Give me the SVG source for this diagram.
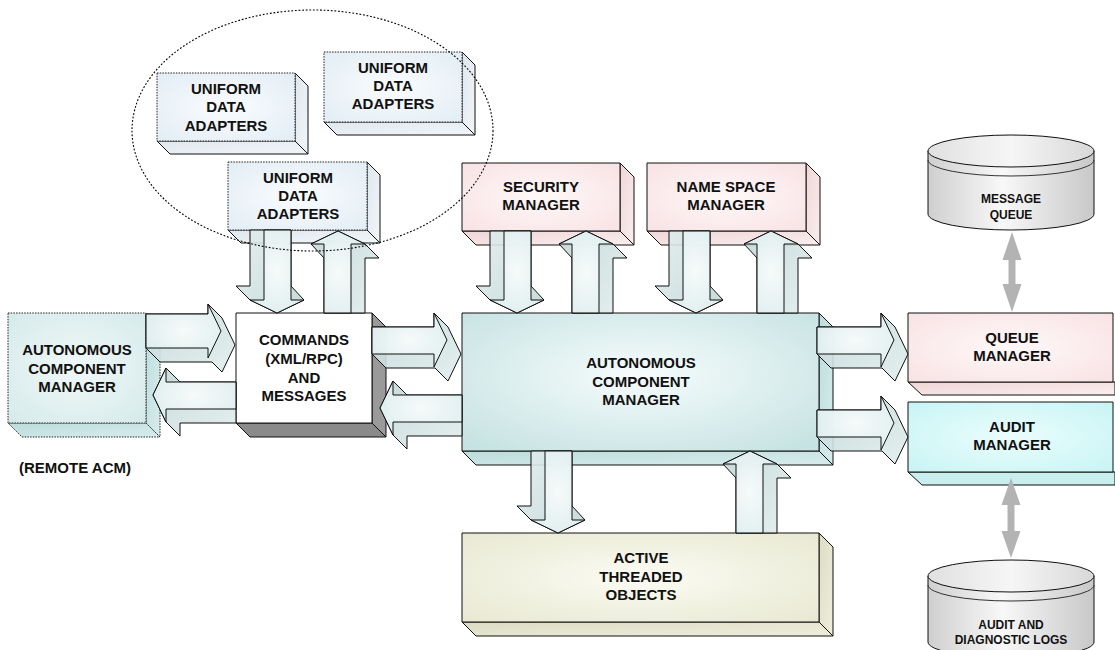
<svg xmlns="http://www.w3.org/2000/svg" width="1115" height="650" viewBox="0 0 1115 650">
<defs>
<style>
.t{font-family:"Liberation Sans",Arial,sans-serif;font-weight:bold;font-size:15px;text-anchor:middle;fill:#111}
.ts{font-size:12px}
.e{stroke:#111;stroke-width:1;stroke-linejoin:round}
.d{stroke:#222;stroke-width:1;stroke-dasharray:1.5 1.2}
.as{fill:url(#gAS);stroke:#111;stroke-width:1;stroke-linejoin:round;fill-opacity:0.9}
.af{fill:url(#gAF);stroke:#111;stroke-width:1;stroke-linejoin:round;fill-opacity:0.88}
.dbl{fill:#b3b3b3}
</style>
<radialGradient id="gUDA" cx="0.5" cy="0.5" r="0.7"><stop offset="0" stop-color="#fafcfe"/><stop offset="1" stop-color="#e2edf5"/></radialGradient>
<linearGradient id="gUDAs" x1="0" y1="0" x2="1" y2="1"><stop offset="0" stop-color="#dfe7ee"/><stop offset="1" stop-color="#f2f6f9"/></linearGradient>
<radialGradient id="gPink" cx="0.5" cy="0.5" r="0.7"><stop offset="0" stop-color="#fff8f8"/><stop offset="1" stop-color="#f8e2e4"/></radialGradient>
<linearGradient id="gPinkS" x1="0" y1="0" x2="1" y2="1"><stop offset="0" stop-color="#efd6d8"/><stop offset="1" stop-color="#fbeeee"/></linearGradient>
<radialGradient id="gAcm" cx="0.5" cy="0.45" r="0.7"><stop offset="0" stop-color="#f6fcfc"/><stop offset="1" stop-color="#c6e2e2"/></radialGradient>
<linearGradient id="gAcmS" x1="0" y1="0" x2="1" y2="1"><stop offset="0" stop-color="#bcdcdc"/><stop offset="1" stop-color="#d8ecec"/></linearGradient>
<radialGradient id="gRem" cx="0.5" cy="0.5" r="0.7"><stop offset="0" stop-color="#f0f8f8"/><stop offset="1" stop-color="#d6eaea"/></radialGradient>
<radialGradient id="gAud" cx="0.5" cy="0.5" r="0.7"><stop offset="0" stop-color="#eafdfd"/><stop offset="1" stop-color="#c8f4f4"/></radialGradient>
<radialGradient id="gAto" cx="0.5" cy="0.5" r="0.7"><stop offset="0" stop-color="#fbfbf3"/><stop offset="1" stop-color="#e8e8d2"/></radialGradient>
<linearGradient id="gAtoS" x1="0" y1="0" x2="1" y2="1"><stop offset="0" stop-color="#dcdcc4"/><stop offset="1" stop-color="#eeeedc"/></linearGradient>
<linearGradient id="gCyl" x1="0" y1="0" x2="1" y2="0"><stop offset="0" stop-color="#cfcfcf"/><stop offset="0.45" stop-color="#f8f8f8"/><stop offset="1" stop-color="#c8c8c8"/></linearGradient>
<linearGradient id="gCylT" x1="0" y1="0" x2="1" y2="0"><stop offset="0" stop-color="#e0e0e0"/><stop offset="0.5" stop-color="#f6f6f6"/><stop offset="1" stop-color="#d8d8d8"/></linearGradient>
<radialGradient id="gAF" cx="0.5" cy="0.5" r="0.7"><stop offset="0" stop-color="#fafdfd"/><stop offset="1" stop-color="#dcedee"/></radialGradient>
<linearGradient id="gAS" x1="0" y1="0" x2="1" y2="1"><stop offset="0" stop-color="#c2d6d6"/><stop offset="1" stop-color="#e2eeee"/></linearGradient>
</defs>
<rect width="1115" height="650" fill="#fff"/>

<g id="uda1">
<polygon class="e" fill="url(#gUDAs)" points="295,73 308,86 308,154 295,141"/>
<polygon class="e" fill="url(#gUDAs)" points="157,141 295,141 308,154 170,154"/>
<rect class="d" fill="url(#gUDA)" x="157" y="73" width="138" height="68"/>
<text class="t" x="226" y="94">UNIFORM</text><text class="t" x="226" y="112">DATA</text><text class="t" x="226" y="131">ADAPTERS</text>
</g>
<g id="uda2">
<polygon class="e" fill="url(#gUDAs)" points="462,52 475,65 475,135 462,122"/>
<polygon class="e" fill="url(#gUDAs)" points="324,122 462,122 475,135 337,135"/>
<rect class="d" fill="url(#gUDA)" x="324" y="52" width="138" height="70"/>
<text class="t" x="393" y="73">UNIFORM</text><text class="t" x="393" y="91">DATA</text><text class="t" x="393" y="109">ADAPTERS</text>
</g>
<g id="uda3">
<polygon class="e" fill="url(#gUDAs)" points="367,162 380,175 380,243 367,230"/>
<polygon class="e" fill="url(#gUDAs)" points="228,230 367,230 380,243 241,243"/>
<rect class="d" fill="url(#gUDA)" x="228" y="162" width="139" height="68"/>
<text class="t" x="298" y="183">UNIFORM</text><text class="t" x="298" y="201">DATA</text><text class="t" x="298" y="219">ADAPTERS</text>
</g>
<g id="security">
<polygon class="e" fill="url(#gPinkS)" points="620,163 634,177 634,245 620,231"/>
<polygon class="e" fill="url(#gPinkS)" points="462,231 620,231 634,245 476,245"/>
<rect class="e" fill="url(#gPink)" x="462" y="163" width="158" height="68"/>
<text class="t" x="541" y="192">SECURITY</text><text class="t" x="541" y="210">MANAGER</text>
</g>
<g id="namespace">
<polygon class="e" fill="url(#gPinkS)" points="806,163 820,177 820,245 806,231"/>
<polygon class="e" fill="url(#gPinkS)" points="647,231 806,231 820,245 661,245"/>
<rect class="e" fill="url(#gPink)" x="647" y="163" width="159" height="68"/>
<text class="t" x="726" y="192">NAME SPACE</text><text class="t" x="726" y="210">MANAGER</text>
</g>
<g id="acm">
<polygon class="e" fill="url(#gAcmS)" points="819,313 833,327 833,465 819,451"/>
<polygon class="e" fill="url(#gAcmS)" points="462,451 819,451 833,465 476,465"/>
<rect class="e" fill="url(#gAcm)" x="462" y="313" width="357" height="138"/>
<text class="t" x="641" y="368">AUTONOMOUS</text><text class="t" x="641" y="387">COMPONENT</text><text class="t" x="641" y="405">MANAGER</text>
</g>
<g id="commands">
<polygon class="e" fill="#9a9a9a" points="372,313 386,327 386,437 372,423"/>
<polygon class="e" fill="#8a8a8a" points="236,423 372,423 386,437 250,437"/>
<rect class="e" fill="#fff" x="236" y="313" width="136" height="110"/>
<text class="t" x="304" y="345">COMMANDS</text><text class="t" x="304" y="364">(XML/RPC)</text><text class="t" x="304" y="383">AND</text><text class="t" x="304" y="401">MESSAGES</text>
</g>
<g id="remote">
<polygon class="d" fill="url(#gAcmS)" points="146,313 160,327 160,437 146,423"/>
<polygon class="d" fill="url(#gAcmS)" points="8,423 146,423 160,437 22,437"/>
<rect class="d" fill="url(#gRem)" x="8" y="313" width="138" height="110"/>
<text class="t" x="77" y="355">AUTONOMOUS</text><text class="t" x="77" y="374">COMPONENT</text><text class="t" x="77" y="392">MANAGER</text>
<text class="t" x="75" y="473">(REMOTE ACM)</text>
</g>
<g id="queue">
<polygon class="e" fill="url(#gPinkS)" points="908,382 1115,382 1115,395 922,395"/>
<rect class="e" fill="url(#gPink)" x="908" y="313" width="205" height="69"/>
<text class="t" x="1012" y="343">QUEUE</text><text class="t" x="1012" y="361">MANAGER</text>
</g>
<g id="audit">
<polygon class="e" fill="#c8eeee" points="908,472 1115,472 1115,485 922,485"/>
<rect class="e" fill="url(#gAud)" x="908" y="402" width="205" height="70"/>
<text class="t" x="1012" y="432">AUDIT</text><text class="t" x="1012" y="450">MANAGER</text>
</g>
<g id="ato">
<polygon class="e" fill="url(#gAtoS)" points="819,533 833,547 833,636 819,622"/>
<polygon class="e" fill="url(#gAtoS)" points="462,622 819,622 833,636 476,636"/>
<rect class="e" fill="url(#gAto)" x="462" y="533" width="357" height="89"/>
<text class="t" x="641" y="563">ACTIVE</text><text class="t" x="641" y="582">THREADED</text><text class="t" x="641" y="600">OBJECTS</text>
</g>
<g id="mq">
<path class="e" fill="url(#gCyl)" stroke="#333" d="M928,151 L928,214 A83,16 0 0 0 1094,214 L1094,151 Z"/>
<ellipse class="e" fill="url(#gCylT)" cx="1011" cy="151" rx="83" ry="16"/>
<path fill="none" stroke="#333" d="M928,160 A83,16 0 0 0 1094,160"/>
<text class="t ts" x="1011" y="203">MESSAGE</text><text class="t ts" x="1011" y="219">QUEUE</text>
</g>
<g id="logs">
<path class="e" fill="url(#gCyl)" stroke="#333" d="M928,576 L928,642 A83,16 0 0 0 1094,642 L1094,576 Z"/>
<ellipse class="e" fill="url(#gCylT)" cx="1011" cy="576" rx="83" ry="16"/>
<path fill="none" stroke="#333" d="M928,585 A83,16 0 0 0 1094,585"/>
<text class="t ts" x="1011" y="629">AUDIT AND</text><text class="t ts" x="1011" y="644">DIAGNOSTIC LOGS</text>
</g>

<g id="connectors">
<g transform="translate(221,331)"><polygon class="as" points="-75,-17 -13,-17 -13,-27 1,-13 14,14 1,41 -9,31 -61,31 -75,17"/><polygon class="af" points="0,0 -13,-27 -13,-17 -75,-17 -75,17 -13,17 -13,27"/></g>
<g transform="translate(153,395)"><polygon class="as" points="0,0 13,-27 27,-13 83,-13 83,28 27,28 27,41 13,27"/><polygon class="af" points="0,0 13,-27 13,-13 83,-13 83,14 13,14 13,27"/></g>
<g transform="translate(277,313) rotate(180)"><polygon class="as" points="0,0 27,13 41,27 27,27 27,83 -14,83 -14,27 -27,13"/><polygon class="af" points="0,0 27,13 13,13 13,83 -14,83 -14,13 -27,13"/></g>
<g transform="translate(338,231)"><polygon class="as" points="0,0 27,13 41,27 27,27 27,82 -14,82 -14,27 -27,13"/><polygon class="af" points="0,0 27,13 13,13 13,82 -14,82 -14,13 -27,13"/></g>
<g transform="translate(447,340)"><polygon class="as" points="-75,-13 -13,-13 -13,-27 1,-13 14,14 1,41 -12,28 -61,28 -75,14"/><polygon class="af" points="0,0 -13,-27 -13,-13 -75,-13 -75,14 -13,14 -13,27"/></g>
<g transform="translate(380,408)"><polygon class="as" points="0,0 13,-27 27,-13 82,-13 82,28 27,28 27,41 13,27"/><polygon class="af" points="0,0 13,-27 13,-13 82,-13 82,14 13,14 13,27"/></g>
<g transform="translate(517,313) rotate(180)"><polygon class="as" points="0,0 27,13 41,27 27,27 27,82 -14,82 -14,27 -27,13"/><polygon class="af" points="0,0 27,13 13,13 13,82 -14,82 -14,13 -27,13"/></g>
<g transform="translate(586,231)"><polygon class="as" points="0,0 27,13 41,27 27,27 27,82 -14,82 -14,27 -27,13"/><polygon class="af" points="0,0 27,13 13,13 13,82 -14,82 -14,13 -27,13"/></g>
<g transform="translate(696,313) rotate(180)"><polygon class="as" points="0,0 27,13 41,27 27,27 27,82 -14,82 -14,27 -27,13"/><polygon class="af" points="0,0 27,13 13,13 13,82 -14,82 -14,13 -27,13"/></g>
<g transform="translate(771,231)"><polygon class="as" points="0,0 27,13 41,27 27,27 27,82 -14,82 -14,27 -27,13"/><polygon class="af" points="0,0 27,13 13,13 13,82 -14,82 -14,13 -27,13"/></g>
<g transform="translate(894,340)"><polygon class="as" points="-77,-13 -13,-13 -13,-27 1,-13 14,14 1,41 -12,28 -63,28 -77,14"/><polygon class="af" points="0,0 -13,-27 -13,-13 -77,-13 -77,14 -13,14 -13,27"/></g>
<g transform="translate(894,423)"><polygon class="as" points="-77,-13 -13,-13 -13,-27 1,-13 14,14 1,41 -12,28 -63,28 -77,14"/><polygon class="af" points="0,0 -13,-27 -13,-13 -77,-13 -77,14 -13,14 -13,27"/></g>
<g transform="translate(558,533) rotate(180)"><polygon class="as" points="0,0 27,13 41,27 27,27 27,82 -14,82 -14,27 -27,13"/><polygon class="af" points="0,0 27,13 13,13 13,82 -14,82 -14,13 -27,13"/></g>
<g transform="translate(750,451)"><polygon class="as" points="0,0 27,13 41,27 27,27 27,82 -14,82 -14,27 -27,13"/><polygon class="af" points="0,0 27,13 13,13 13,82 -14,82 -14,13 -27,13"/></g>
<polygon class="dbl" points="1012,232 1021.5,260 1015.5,260 1015.5,284 1021.5,284 1012,312 1002.5,284 1008.5,284 1008.5,260 1002.5,260"/>
<polygon class="dbl" points="1011,478 1020.5,505 1014.5,505 1014.5,531 1020.5,531 1011,558 1001.5,531 1007.5,531 1007.5,505 1001.5,505"/>
</g>

<ellipse id="group-boundary" cx="312.5" cy="130.5" rx="180.5" ry="120.5" fill="none" stroke="#000" stroke-width="1.1" stroke-dasharray="1.8 1.8"/>
</svg>
